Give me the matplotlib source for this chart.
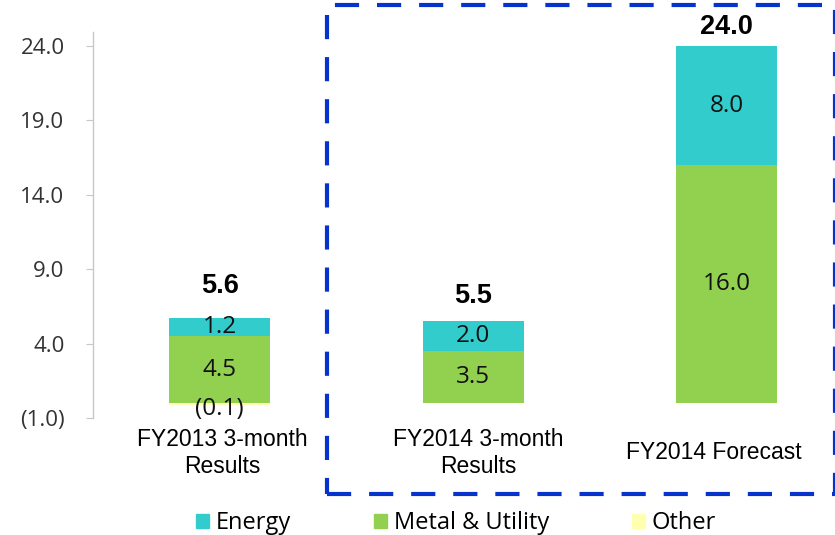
import matplotlib
matplotlib.use("Agg")
import matplotlib.pyplot as plt
from matplotlib.patches import Rectangle, Patch
from matplotlib.ticker import FuncFormatter
from matplotlib.transforms import ScaledTranslation

categories = ["FY2013 3-month\nResults", "FY2014 3-month\nResults", "FY2014 Forecast"]
other = [-0.1, 0.0, 0.0]
metal = [4.5, 3.5, 16.0]
energy = [1.2, 2.0, 8.0]
totals = [5.6, 5.5, 24.0]
yticks = [-1, 4, 9, 14, 19, 24]

C_ENERGY = "#33CCCC"
C_METAL = "#92D050"
C_OTHER = "#FFFFB0"
NUMFONT = "Open Sans"
ARIAL = "Liberation Sans"

fig = plt.figure(figsize=(8.35, 5.35), dpi=100)
W, H = 835, 535
ax = fig.add_axes([93 / W, (H - 418) / H, (W - 93) / W, (418 - 32) / H])

x = list(range(len(categories)))
bw = 0.4
ax.bar(x, other, bw, color=C_OTHER, label="Other", zorder=2)
ax.bar(x, metal, bw, color=C_METAL, label="Metal & Utility", zorder=2)
ax.bar(x, energy, bw, bottom=metal, color=C_ENERGY, label="Energy", zorder=2)

ax.set_xlim(-0.5, -0.5 + (W - 93) / 253.5)
ax.set_ylim(-1, 24.94)

# segment labels
for i in x:
    if other[i] != 0:
        ax.text(i, other[i] - 0.3, f"({abs(other[i]):.1f})", ha="center", va="center",
                fontsize=17.5, family=NUMFONT, color="#111111", zorder=3)
    ax.text(i, metal[i] / 2, f"{metal[i]:.1f}", ha="center", va="center",
            fontsize=17.5, family=NUMFONT, color="#111111", zorder=3)
    ax.text(i, metal[i] + energy[i] / 2, f"{energy[i]:.1f}", ha="center", va="center",
            fontsize=17.5, family=NUMFONT, color="#111111", zorder=3)

total_offsets = [24, 18, 14]
for i in x:
    ax.annotate(f"{totals[i]:.1f}", (i, totals[i]), xytext=(0, total_offsets[i]),
                textcoords="offset points", ha="center", va="center",
                fontsize=19.5, fontweight="bold", family=ARIAL, color="black")

# axes styling
for s in ["top", "right", "bottom"]:
    ax.spines[s].set_visible(False)
ax.spines["left"].set_color("#C8C8C8")
ax.spines["left"].set_linewidth(1.0)
ax.set_yticks(yticks)
ax.yaxis.set_major_formatter(FuncFormatter(lambda v, p: f"({abs(v):.1f})" if v < 0 else f"{v:.1f}"))
ax.tick_params(axis="y", direction="out", length=5, color="#C8C8C8", pad=15.5,
               labelsize=16, labelcolor="#333333")
for lab in ax.get_yticklabels():
    lab.set_family(NUMFONT)
ax.set_xticks(x)
ax.set_xticklabels(categories, family=ARIAL, fontsize=16.5, va="center", linespacing=1.2)
ax.tick_params(axis="x", length=0, pad=25)
label_shift_px = [3, 5, -13]
for lab, dx in zip(ax.get_xticklabels(), label_shift_px):
    lab.set_transform(lab.get_transform() + ScaledTranslation(dx / 100, 0, fig.dpi_scale_trans))

# dashed highlight box
rect = Rectangle((327 / W, (H - 494) / H), (834.5 - 327) / W, (494 - 5) / H,
                 transform=fig.transFigure, fill=False, edgecolor="#0533CC",
                 linewidth=3, linestyle=(0, (5.8, 4.3)), clip_on=False)
fig.patches.append(rect)

handles = [Patch(color=C_ENERGY), Patch(color=C_METAL), Patch(color=C_OTHER)]
labels = ["Energy", "Metal & Utility", "Other"]
fig.legend(handles, labels, loc="center", bbox_to_anchor=(456 / W, (H - 523) / H),
           ncol=3, frameon=False, handlelength=0.55, handleheight=0.55, handletextpad=0.3,
           columnspacing=3.5, borderpad=0, prop={"family": NUMFONT, "size": 17})

fig.savefig("out.png", dpi=100)
